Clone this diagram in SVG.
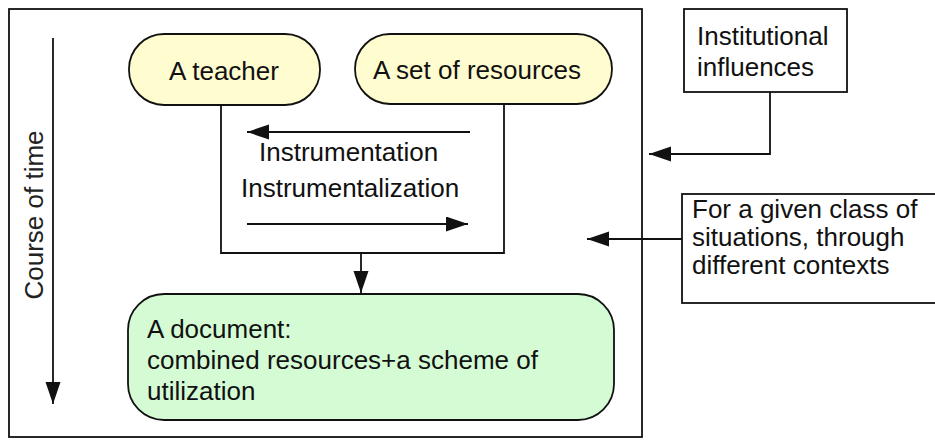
<svg xmlns="http://www.w3.org/2000/svg" width="935" height="441" viewBox="0 0 935 441">
<defs>
<style>
.t{font-family:"Liberation Sans",Arial,sans-serif;font-size:26px;fill:#111}
.ln{fill:none;stroke:#111;stroke-width:1.8}
.oval{fill:#FFFDD0;stroke:#111;stroke-width:1.8}
.doc{fill:#D5FBD5;stroke:#111;stroke-width:1.8}
.box{fill:#fff;stroke:#111;stroke-width:1.8}
</style>
<marker id="ah" markerUnits="userSpaceOnUse" markerWidth="24" markerHeight="16" refX="22" refY="7.5" orient="auto">
<path d="M0,0 L22,7.5 L0,15 z" fill="#111"/>
</marker>
</defs>
<rect width="935" height="441" fill="#fff"/>
<g id="frame">
<rect x="9" y="9" width="633" height="428" class="ln"/>
</g>
<g id="time">
<text class="t" transform="translate(43,215) rotate(-90)" text-anchor="middle" style="fill:#222">Course of time</text>
</g>
<g id="connectors">
<line x1="53" y1="38" x2="53" y2="404" class="ln" marker-end="url(#ah)"/>
<path d="M221,105 V253 H504 V102" class="ln"/>
<line x1="470" y1="132" x2="247" y2="132" class="ln" marker-end="url(#ah)"/>
<line x1="247" y1="224" x2="468" y2="224" class="ln" marker-end="url(#ah)"/>
<line x1="361" y1="253" x2="361" y2="293" class="ln" marker-end="url(#ah)"/>
<path d="M770,92 V154 H649" class="ln" marker-end="url(#ah)"/>
<line x1="682" y1="239" x2="587" y2="239" class="ln" marker-end="url(#ah)"/>
</g>
<g id="labels">
<text class="t" x="259" y="161">Instrumentation</text>
<text class="t" x="241" y="197">Instrumentalization</text>
</g>
<g id="teacher">
<rect x="129" y="34" width="191" height="71" rx="35" ry="35" class="oval"/>
<text class="t" x="224" y="80" text-anchor="middle">A teacher</text>
</g>
<g id="resources">
<rect x="355" y="34" width="257" height="70" rx="35" ry="35" class="oval"/>
<text class="t" x="477" y="79" text-anchor="middle">A set of resources</text>
</g>
<g id="document">
<rect x="128" y="294" width="486" height="126" rx="36" ry="36" class="doc"/>
<text class="t" x="147" y="338">A document:</text>
<text class="t" x="147" y="369">combined resources+a scheme of</text>
<text class="t" x="147" y="400">utilization</text>
</g>
<g id="institutional">
<rect x="684" y="9" width="163" height="83" class="box"/>
<text class="t" x="697" y="45">Institutional</text>
<text class="t" x="697" y="76">influences</text>
</g>
<g id="situations">
<rect x="682" y="194" width="260" height="109" class="box"/>
<text class="t" x="692" y="218">For a given class of</text>
<text class="t" x="692" y="246">situations, through</text>
<text class="t" x="692" y="274">different contexts</text>
</g>
</svg>
